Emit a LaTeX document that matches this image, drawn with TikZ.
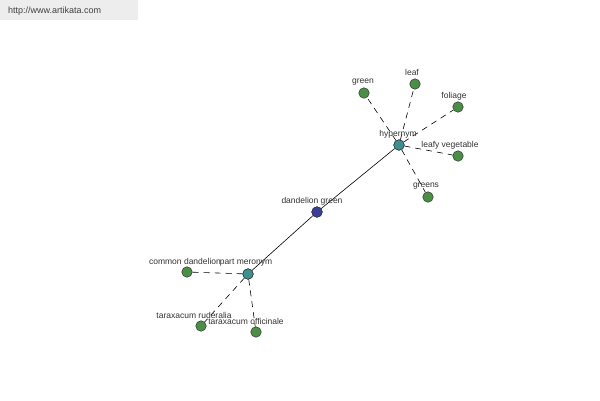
\documentclass[tikz,border=0pt]{standalone}
\usepackage{fontspec}
\setmainfont{Liberation Sans}
\definecolor{leafgreen}{HTML}{4A8F45}
\definecolor{hubteal}{HTML}{3F8F8F}
\definecolor{rootblue}{HTML}{3B3F99}
\begin{document}
\begin{tikzpicture}[x=1pt,y=-1pt,
  leafnode/.style={circle,draw=black!80,fill=leafgreen,inner sep=0pt,minimum size=10.5pt,line width=0.5pt},
  hubnode/.style={circle,draw=black!80,fill=hubteal,inner sep=0pt,minimum size=10.5pt,line width=0.5pt},
  rootnode/.style={circle,draw=black!80,fill=rootblue,inner sep=0pt,minimum size=10.5pt,line width=0.5pt},
  lbl/.style={font=\fontsize{8.5}{10}\selectfont,text=black!80,inner sep=0pt},
  dashline/.style={dashed,dash pattern=on 6pt off 5pt,line width=0.6pt},
  solidline/.style={line width=0.6pt}]
\useasboundingbox (0,0) rectangle (600,400);
\fill[white] (0,0) rectangle (600,400);
\node[fill=black!7,minimum width=138pt,minimum height=20pt,anchor=north west,inner sep=0pt] (wm) at (0,0) {};
\node[lbl,anchor=west,font=\fontsize{9}{10}\selectfont,text=black!75] (wmt) at (8,11) {http://www.artikata.com};
% nodes
\coordinate (pdg) at (317,212);
\coordinate (phy) at (399,145);
\coordinate (ppm) at (248,274);
\node[rootnode] (dg) at (pdg) {};
\node[hubnode] (hy) at (phy) {};
\node[hubnode] (pm) at (ppm) {};
\node[leafnode] (green) at (364,93) {};
\node[leafnode] (leaf) at (415,84) {};
\node[leafnode] (foliage) at (458,107) {};
\node[leafnode] (leafy) at (458,156) {};
\node[leafnode] (greens) at (428,197) {};
\node[leafnode] (common) at (187,272) {};
\node[leafnode] (rud) at (201,326) {};
\node[leafnode] (off) at (256,332) {};
% edges
\draw[solidline] (dg) -- (hy);
\draw[solidline] (dg) -- (pm);
\foreach \t in {green,leaf,foliage,leafy,greens} \draw[dashline] (hy) -- (\t);
\foreach \t in {common,rud,off} \draw[dashline] (pm) -- (\t);
% redraw nodes on top
\node[rootnode] at (pdg) {};
\node[hubnode] at (phy) {};
\node[hubnode] at (ppm) {};
% labels
\node[lbl] (l1) at (312,201) {dandelion green};
\node[lbl] (l2) at (398,134) {hypernym};
\node[lbl] (l3) at (246,263) {part meronym};
\node[lbl] (l4) at (363,82) {green};
\node[lbl] (l5) at (412,72) {leaf};
\node[lbl] (l6) at (454,96) {foliage};
\node[lbl] (l7) at (450,145) {leafy vegetable};
\node[lbl] (l8) at (426,186) {greens};
\node[lbl] (l9) at (185,261) {common dandelion};
\node[lbl] (l10) at (194,315) {taraxacum ruderalia};
\node[lbl] (l11) at (246,321) {taraxacum officinale};
\end{tikzpicture}
\end{document}
